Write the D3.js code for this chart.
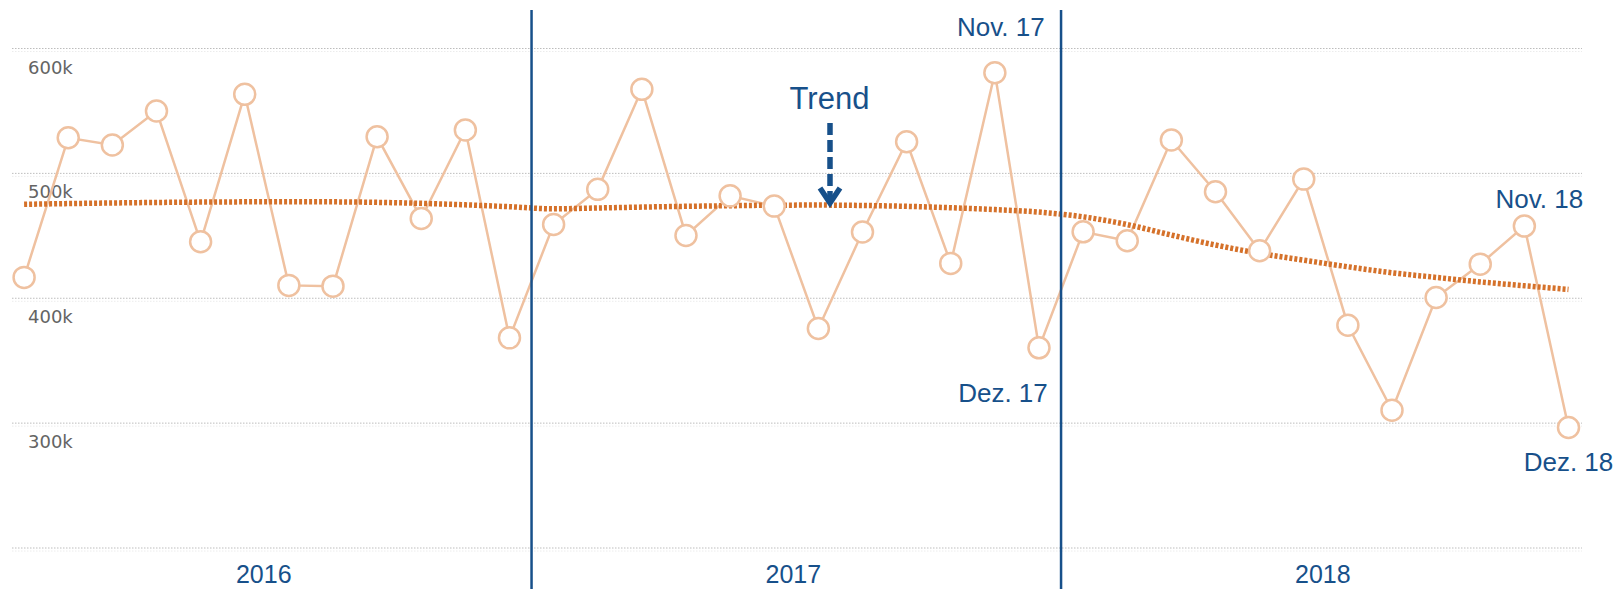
<!DOCTYPE html>
<html>
<head>
<meta charset="utf-8">
<script src="https://cdn.jsdelivr.net/npm/d3@7.9.0/dist/d3.min.js"></script>
<style>
  html, body { margin: 0; padding: 0; background: #fff; }
  svg { display: block; font-family: "Liberation Sans", Arial, sans-serif; }
</style>
</head>
<body>
<svg id="chart" width="1617" height="589"></svg>
<script>
// monthly values (thousands), Jan 2016 .. Dec 2018
const years = ['2016', '2017', '2018'];
const values = [
  416.7, 528.5, 522.7, 549.9, 445.2, 563.3, 410.3, 409.7, 529.3, 463.9, 534.7, 368.3,
  459.1, 487.2, 567.3, 450.3, 482.0, 473.8, 375.8, 453.0, 525.3, 427.9, 580.6, 360.3,
  453.2, 446.0, 526.7, 485.3, 438.0, 495.4, 378.4, 310.3, 400.6, 427.3, 457.8, 296.5
];
const trend = [
  475.2, 475.8, 476.3, 476.7, 477.0, 477.2, 477.3, 477.2, 476.8, 476.0, 474.8, 473.3,
  471.6, 472.3, 473.0, 473.6, 474.1, 474.5, 474.6, 474.3, 473.6, 472.5, 471.0, 469.0,
  465.2, 459.0, 450.6, 442.6, 435.9, 430.5, 425.2, 420.4, 416.7, 413.1, 410.0, 407.1
];
const yTicks = [200, 300, 400, 500, 600];
const notes = [
  { i: 22, text: 'Nov. 17', dx: 6, dy: -37 },
  { i: 23, text: 'Dez. 17', dx: -36, dy: 54 },
  { i: 34, text: 'Nov. 18', dx: 15, dy: -18 },
  { i: 35, text: 'Dez. 18', dx: 0, dy: 44 }
];

const blue = '#17508a';
const peach = '#efc1a0';
const orange = '#d5712a';

const svg = d3.select('#chart');

const x = d3.scaleLinear().domain([0, values.length - 1]).range([24.1, 1568.5]);
const y = d3.scaleLinear().domain([200, 600]).range([548, 48.5]);

// gridlines
const grid = svg.append('g');
yTicks.forEach((t) => {
  grid.append('line')
    .attr('x1', 12).attr('x2', 1582)
    .attr('y1', y(t)).attr('y2', y(t))
    .attr('stroke', '#bdbdbd').attr('stroke-width', 1)
    .attr('stroke-dasharray', '1.5,1.5');
  grid.append('line')
    .attr('x1', 12).attr('x2', 1582)
    .attr('y1', y(t) + 3).attr('y2', y(t) + 3)
    .attr('stroke', '#ececec').attr('stroke-width', 1)
    .attr('stroke-dasharray', '1.5,1.5');
});

// y labels (sit below their gridline)
yTicks.filter((t) => t > 200).forEach((t) => {
  svg.append('text')
    .attr('x', 28)
    .attr('y', y(t) + 25)
    .attr('font-family', '"DejaVu Sans", sans-serif')
    .attr('font-size', 18)
    .attr('fill', '#646464')
    .text(`${t}k`);
});

// data line
const line = d3.line().x((d, i) => x(i)).y((d) => y(d));
svg.append('path')
  .attr('d', line(values))
  .attr('fill', 'none')
  .attr('stroke', peach)
  .attr('stroke-width', 2.5);

// trend
svg.append('path')
  .attr('d', d3.line().curve(d3.curveMonotoneX).x((d, i) => x(i)).y((d) => y(d))(trend))
  .attr('fill', 'none')
  .attr('stroke', orange)
  .attr('stroke-width', 5.5)
  .attr('stroke-dasharray', '3,2');

// points
svg.append('g')
  .selectAll('circle')
  .data(values)
  .join('circle')
  .attr('cx', (d, i) => x(i))
  .attr('cy', (d) => y(d))
  .attr('r', 10.5)
  .attr('fill', '#fff')
  .attr('stroke', peach)
  .attr('stroke-width', 2.5);

// year separators and labels
years.forEach((yr, k) => {
  if (k > 0) {
    svg.append('line')
      .attr('x1', x(k * 12 - 0.5)).attr('x2', x(k * 12 - 0.5))
      .attr('y1', 10).attr('y2', 589)
      .attr('stroke', blue).attr('stroke-width', 2.5);
  }
  svg.append('text')
    .attr('x', x(k * 12 + 5.5) - 3)
    .attr('y', 583)
    .attr('text-anchor', 'middle')
    .attr('font-size', 25)
    .attr('fill', blue)
    .text(yr);
});

// point notes
notes.forEach((n) => {
  svg.append('text')
    .attr('x', x(n.i) + n.dx)
    .attr('y', y(values[n.i]) + n.dy)
    .attr('text-anchor', 'middle')
    .attr('font-size', 26)
    .attr('fill', blue)
    .text(n.text);
});

// trend callout
svg.append('text')
  .attr('x', 829.5).attr('y', 109)
  .attr('text-anchor', 'middle')
  .attr('font-size', 31)
  .attr('fill', blue)
  .text('Trend');
svg.append('line')
  .attr('x1', 830).attr('x2', 830)
  .attr('y1', 123).attr('y2', 200)
  .attr('stroke', blue).attr('stroke-width', 5.5)
  .attr('stroke-dasharray', '12,5');
svg.append('polyline')
  .attr('points', '820,188 830,203 840,188')
  .attr('fill', 'none')
  .attr('stroke', blue).attr('stroke-width', 5.5);
</script>
</body>
</html>
